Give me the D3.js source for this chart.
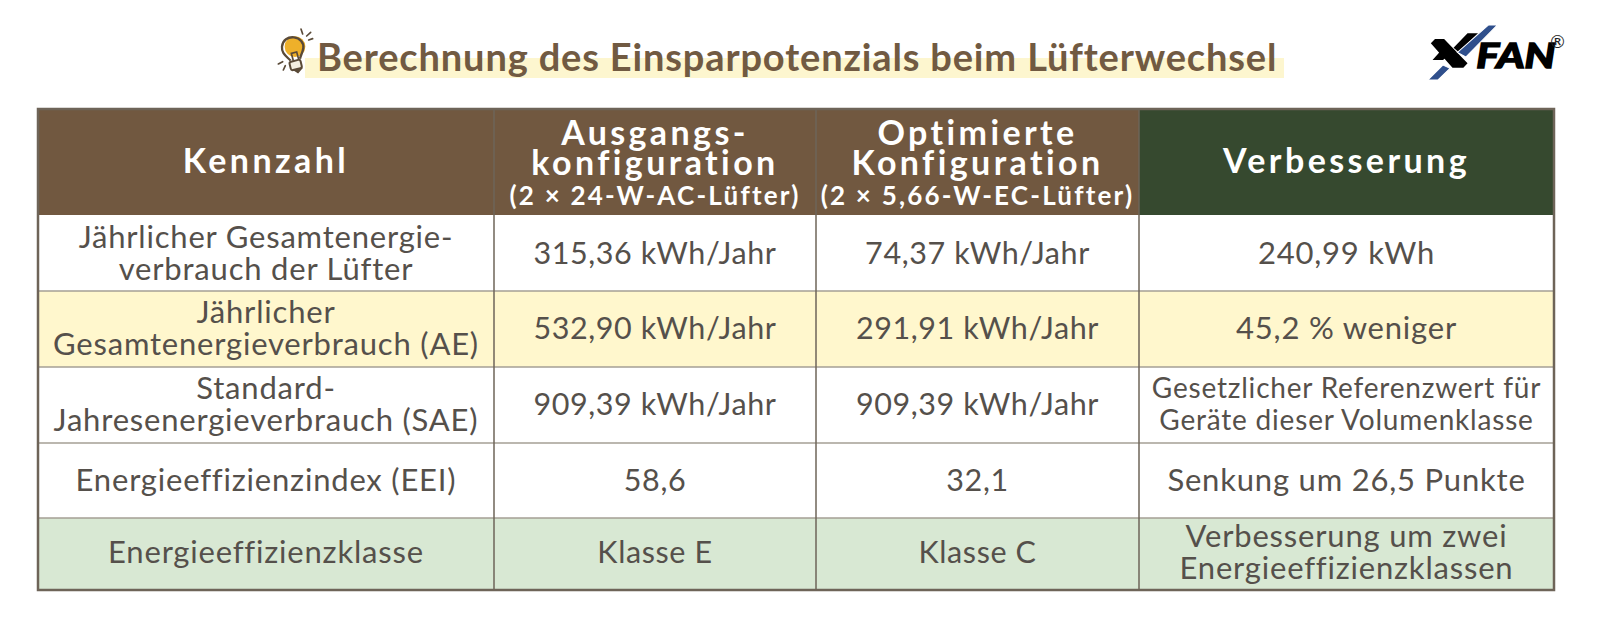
<!DOCTYPE html>
<html>
<head>
<meta charset="utf-8">
<script src="https://cdn.jsdelivr.net/npm/d3@7"></script>
<style>
    html, body { margin: 0; padding: 0; background: #fff; }
    svg { display: block; }
    text { font-family: Lato, "Noto Sans", sans-serif; }
</style>
</head>
<body>
<svg id="svg"></svg>
<script>
// Table content
const titleText = "Berechnung des Einsparpotenzials beim Lüfterwechsel";
const columns = ["metric", "base", "optimized", "gain"];
const headerMain = [
    ["Kennzahl"],
    ["Ausgangs-", "konfiguration"],
    ["Optimierte", "Konfiguration"],
    ["Verbesserung"]
];
const headerSub = ["", "(2 × 24-W-AC-Lüfter)", "(2 × 5,66-W-EC-Lüfter)", ""];
const rowKeys = ["fans", "ae", "sae", "eei", "klasse"];
const metricLabels = [
    ["Jährlicher Gesamtenergie-", "verbrauch der Lüfter"],
    ["Jährlicher", "Gesamtenergieverbrauch (AE)"],
    ["Standard-", "Jahresenergieverbrauch (SAE)"],
    ["Energieeffizienzindex (EEI)"],
    ["Energieeffizienzklasse"]
];
const baseValues = ["315,36 kWh/Jahr", "532,90 kWh/Jahr", "909,39 kWh/Jahr", "58,6", "Klasse E"];
const optimizedValues = ["74,37 kWh/Jahr", "291,91 kWh/Jahr", "909,39 kWh/Jahr", "32,1", "Klasse C"];
const gainValues = [
    ["240,99 kWh"],
    ["45,2 % weniger"],
    ["Gesetzlicher Referenzwert für", "Geräte dieser Volumenklasse"],
    ["Senkung um 26,5 Punkte"],
    ["Verbesserung um zwei", "Energieeffizienzklassen"]
];

// SVG Dimensions Variables
const width = 1600, height = 634;
const svg = d3.select("#svg").attr("width", width).attr("height", height);

// Scales for the table grid
const colLeft = d3.scaleOrdinal().domain(columns).range([38, 494, 816, 1139]);
const colRight = d3.scaleOrdinal().domain(columns).range([494, 816, 1139, 1554]);
const rowTop = d3.scaleOrdinal().domain(rowKeys).range([215, 291, 367, 443, 518]);
const rowBottom = d3.scaleOrdinal().domain(rowKeys).range([291, 367, 443, 518, 590]);
const rowMid = d3.scaleOrdinal().domain(rowKeys).range([253.5, 328.5, 404, 480, 552]);
const rowFill = d3.scaleOrdinal().domain(rowKeys).range(["#ffffff", "#fff7cd", "#ffffff", "#ffffff", "#d8e8d3"]);
const headerFill = d3.scaleOrdinal().domain(columns).range(["#715840", "#715840", "#715840", "#36492f"]);
const headerTop = 109, headerBottom = 215;
const colMid = (c) => (colLeft(c) + colRight(c)) / 2;

const textDark = "#55504b";
const lineColor = "#6e6458";
const iconDark = "#5a4a38";

// Title with highlighter bar behind it
svg.append("rect")
    .attr("x", 305).attr("y", 58).attr("width", 979).attr("height", 20)
    .attr("fill", "#fdf6cf");
svg.append("text")
    .attr("x", 317).attr("y", 71)
    .attr("font-size", 38).attr("font-weight", 700).attr("letter-spacing", 0.85)
    .attr("fill", "#715a42")
    .text(titleText);

// Light bulb icon
const bulb = svg.append("g").attr("transform", "translate(270,20) scale(0.3333)");
bulb.append("circle").attr("cx", 75).attr("cy", 80).attr("r", 31).attr("fill", "#eeb02a");
bulb.append("path")
    .attr("d", "M62 122 C48 108 34 100 36 80 C38 60 54 50 72 52 C90 54 102 68 100 84 C98 98 92 106 90 116")
    .attr("fill", "none").attr("stroke", iconDark).attr("stroke-width", 7);
bulb.append("path").attr("d", "M70 122 L64 100 L80 96 L86 118")
    .attr("fill", "none").attr("stroke", iconDark).attr("stroke-width", 5);
bulb.append("rect").attr("x", 60).attr("y", 122).attr("width", 34).attr("height", 26).attr("rx", 6)
    .attr("transform", "rotate(-14 77 135)")
    .attr("fill", "#f3ede0").attr("stroke", iconDark).attr("stroke-width", 6);
bulb.append("path").attr("d", "M72 150 L84 158 L94 146 Z")
    .attr("fill", iconDark).attr("stroke", iconDark).attr("stroke-width", 4);
bulb.selectAll("line.ray")
    .data([[93, 27, 98, 42], [122, 37, 110, 48], [128, 56, 116, 60], [25, 132, 38, 125], [40, 150, 46, 137]])
    .enter().append("line")
    .attr("x1", (d) => d[0]).attr("y1", (d) => d[1])
    .attr("x2", (d) => d[2]).attr("y2", (d) => d[3])
    .attr("stroke", iconDark).attr("stroke-width", 5).attr("stroke-linecap", "round");

// X-FAN logo
const logo = svg.append("g").attr("transform", "translate(1413.3,15) scale(0.35,0.3333)");
logo.append("path")
    .attr("d", "M50 85 L62 72 L88 72 L155 145 L143 158 L112 158 Z M115 98 L155 55 L185 55 L130 112 Z M55 135 L78 108 L95 125 L85 135 Z")
    .attr("fill", "#000");
logo.append("path")
    .attr("d", "M215 30 L240 30 L150 126 L126 112 Z M85 150 L105 160 L70 195 L42 195 Z")
    .attr("fill", "#2f4f8c").attr("stroke", "#fff").attr("stroke-width", 3);
logo.append("text").attr("x", 180).attr("y", 160)
    .attr("font-size", 104).attr("font-weight", 700).attr("font-style", "italic")
    .attr("font-family", "Liberation Sans").attr("textLength", 226).attr("lengthAdjust", "spacingAndGlyphs")
    .attr("stroke", "#000").attr("stroke-width", 5)
    .text("FAN");
logo.append("text").attr("x", 412).attr("y", 83).attr("dy", "0.35em").attr("text-anchor", "middle")
    .attr("font-size", 50).attr("font-family", "Liberation Sans").attr("fill", "#222").text("®");

// Header cells
svg.selectAll("rect.header")
    .data(columns)
    .enter().append("rect")
    .attr("class", "header")
    .attr("x", (c) => colLeft(c)).attr("y", headerTop)
    .attr("width", (c) => colRight(c) - colLeft(c)).attr("height", headerBottom - headerTop)
    .attr("fill", (c) => headerFill(c));

// Body rows
svg.selectAll("rect.row")
    .data(rowKeys)
    .enter().append("rect")
    .attr("class", "row")
    .attr("x", colLeft("metric")).attr("y", (r) => rowTop(r))
    .attr("width", colRight("gain") - colLeft("metric")).attr("height", (r) => rowBottom(r) - rowTop(r))
    .attr("fill", (r) => rowFill(r));

// Grid lines between rows and columns
svg.selectAll("line.rowLine")
    .data(rowKeys.slice(1))
    .enter().append("line")
    .attr("x1", colLeft("metric")).attr("x2", colRight("gain"))
    .attr("y1", (r) => rowTop(r)).attr("y2", (r) => rowTop(r))
    .attr("stroke", "#a59f95").attr("stroke-width", 1.5);
svg.selectAll("line.colLine")
    .data(columns.slice(1))
    .enter().append("line")
    .attr("x1", (c) => colLeft(c)).attr("x2", (c) => colLeft(c))
    .attr("y1", headerTop).attr("y2", rowBottom("klasse"))
    .attr("stroke", lineColor).attr("stroke-width", 1.5);
svg.append("rect")
    .attr("x", colLeft("metric")).attr("y", headerTop)
    .attr("width", colRight("gain") - colLeft("metric")).attr("height", rowBottom("klasse") - headerTop)
    .attr("fill", "none").attr("stroke", lineColor).attr("stroke-width", 2.5);

// Writes centred lines of text in a cell
function cellText(lines, x, cy, size, lineGap, spacing, fill, weight) {
    const top = cy - (lines.length - 1) * lineGap / 2;
    lines.forEach((line, i) => {
        svg.append("text")
            .attr("x", x).attr("y", top + i * lineGap)
            .attr("dy", "0.35em")
            .attr("text-anchor", "middle")
            .attr("font-size", size)
            .attr("font-weight", weight || 400)
            .attr("letter-spacing", spacing)
            .attr("fill", fill || textDark)
            .text(line);
    });
}

// Header text
columns.forEach((c, i) => {
    const hasSub = headerSub[i] !== "";
    cellText(headerMain[i], colMid(c), hasSub ? 148 : 161, 34, 30, 3.4, "#fff", 700);
    if (hasSub) {
        cellText([headerSub[i]], colMid(c), 196, 26, 0, 2.2, "#fff", 700);
    }
});

// Body text
rowKeys.forEach((r, i) => {
    const cy = rowMid(r);
    cellText(metricLabels[i], colMid("metric"), cy, 31, 32, 0.8);
    cellText([baseValues[i]], colMid("base"), cy, 30.5, 32, 0.6);
    cellText([optimizedValues[i]], colMid("optimized"), cy, 30.5, 32, 0.6);
    if (r === "sae") {
        cellText(gainValues[i], colMid("gain"), cy, 28, 31.5, 0.8);
    } else {
        cellText(gainValues[i], colMid("gain"), cy, 31, 32, 0.8);
    }
});
</script>
</body>
</html>
